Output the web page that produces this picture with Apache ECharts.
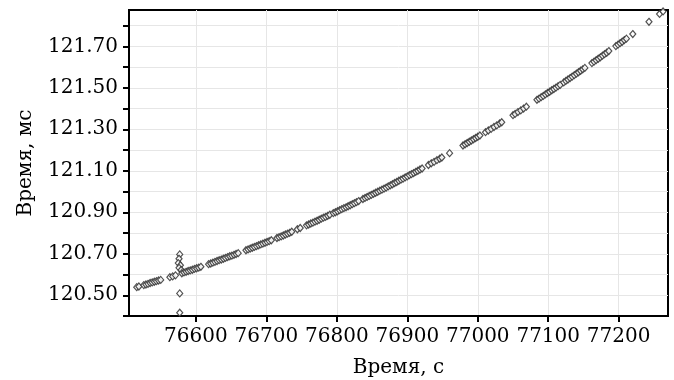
<!DOCTYPE html>
<html>
<head>
<meta charset="utf-8">
<script src="https://cdn.jsdelivr.net/npm/echarts@6/dist/echarts.min.js"></script>
<style>html,body{margin:0;padding:0;background:#fff}#c{width:674px;height:380px}</style>
</head>
<body>
<div id="c"></div>
<script>
// Time, s
const timeS = [
  76516, 76519,
  76526, 76529, 76532, 76535, 76538, 76541, 76544, 76547, 76550,
  76563, 76567, 76571,
  76577, 76576, 76575, 76578, 76576, 76579, 76577, 76577,
  76580, 76583, 76586, 76589, 76592, 76595, 76598, 76601, 76604, 76607,
  76618, 76621, 76624, 76627, 76630, 76633, 76636, 76639, 76642, 76645, 76648, 76651, 76654, 76657, 76660,
  76671, 76674, 76677, 76680, 76683, 76686, 76689, 76692, 76695, 76698, 76701, 76704, 76707,
  76715, 76718, 76721, 76724, 76727, 76730, 76733, 76736,
  76744, 76748,
  76757, 76760, 76763, 76766, 76769, 76772, 76775, 76778, 76781, 76784, 76787, 76790,
  76795, 76798, 76801, 76804, 76807, 76810, 76813, 76816, 76819, 76822, 76825, 76828, 76831,
  76837, 76840, 76843, 76846, 76849, 76852, 76855, 76858, 76861, 76864, 76867, 76870, 76873, 76876, 76879,
  76882, 76885, 76888, 76891, 76894, 76897, 76900, 76903, 76906, 76909, 76912, 76915, 76918, 76921,
  76930, 76934, 76938, 76942, 76946, 76949,
  76960,
  76979, 76982, 76985, 76988, 76991, 76994, 76997, 77000, 77003,
  77011, 77015, 77019, 77023, 77027, 77031, 77034,
  77050, 77053, 77057, 77061, 77065, 77069,
  77084, 77087, 77090, 77093, 77096, 77099, 77102, 77105, 77108, 77111, 77114, 77117,
  77122, 77125, 77128, 77131, 77134, 77137, 77140, 77143, 77146, 77149, 77152,
  77162, 77165, 77168, 77171, 77174, 77177, 77180, 77183, 77186,
  77196, 77199, 77202, 77205, 77208, 77211,
  77220, 77243, 77258, 77263
];
// Time, ms
const delayMs = [
  120.539, 120.542,
  120.549, 120.552, 120.555, 120.559, 120.562, 120.565, 120.568, 120.571, 120.574,
  120.587, 120.591, 120.596,
  120.697, 120.676, 120.655, 120.645, 120.632, 120.622, 120.509, 120.416,
  120.606, 120.610, 120.613, 120.617, 120.620, 120.623, 120.627, 120.630, 120.633, 120.637,
  120.650, 120.653, 120.657, 120.661, 120.665, 120.669, 120.672, 120.676, 120.680, 120.684, 120.688, 120.691, 120.695, 120.699, 120.703,
  120.717, 120.721, 120.725, 120.729, 120.733, 120.737, 120.741, 120.745, 120.749, 120.753, 120.757, 120.761, 120.765,
  120.776, 120.780, 120.784, 120.788, 120.793, 120.797, 120.801, 120.806,
  120.818, 120.824,
  120.837, 120.841, 120.846, 120.850, 120.855, 120.859, 120.864, 120.869, 120.874, 120.878, 120.883, 120.888,
  120.896, 120.900, 120.905, 120.910, 120.915, 120.920, 120.924, 120.929, 120.934, 120.939, 120.944, 120.949, 120.954,
  120.964, 120.969, 120.974, 120.979, 120.984, 120.989, 120.994, 120.999, 121.004, 121.009, 121.014, 121.019, 121.025, 121.030, 121.035,
  121.041, 121.046, 121.052, 121.057, 121.062, 121.068, 121.073, 121.079, 121.084, 121.089, 121.095, 121.100, 121.106, 121.111,
  121.128, 121.136, 121.143, 121.151, 121.158, 121.164,
  121.185,
  121.222, 121.228, 121.234, 121.240, 121.246, 121.252, 121.258, 121.264, 121.270,
  121.286, 121.294, 121.302, 121.311, 121.319, 121.328, 121.334,
  121.368, 121.374, 121.383, 121.391, 121.400, 121.409,
  121.442, 121.448, 121.455, 121.461, 121.468, 121.475, 121.481, 121.488, 121.494, 121.501, 121.508, 121.514,
  121.526, 121.533, 121.540, 121.547, 121.554, 121.561, 121.568, 121.575, 121.582, 121.589, 121.596,
  121.619, 121.626, 121.633, 121.640, 121.647, 121.655, 121.662, 121.669, 121.677,
  121.701, 121.708, 121.715, 121.722, 121.730, 121.737,
  121.759, 121.818, 121.856, 121.868
];
const xTicks = [76600, 76700, 76800, 76900, 77000, 77100, 77200];
const yTicks = [120.4, 120.5, 120.6, 120.7, 120.8, 120.9, 121.0, 121.1, 121.2, 121.3, 121.4, 121.5, 121.6, 121.7, 121.8];
const yLabelTicks = [120.5, 120.7, 120.9, 121.1, 121.3, 121.5, 121.7];
const xName = 'Время, с';
const yName = 'Время, мс';

const FONT = 'DejaVu Serif';
const chart = echarts.init(document.getElementById('c'), null, {renderer: 'canvas'});
const data = timeS.map((t, i) => [t, delayMs[i]]);
chart.setOption({
  animation: false,
  backgroundColor: '#fff',
  grid: {left: 129, right: 6, top: 10, bottom: 64, show: true, borderColor: '#000', borderWidth: 2, containLabel: false, outerBoundsMode: 'none'},
  xAxis: {
    type: 'value', min: 76505, max: 77270,
    name: xName, nameLocation: 'middle', nameGap: 42,
    nameTextStyle: {fontFamily: FONT, fontSize: 20, color: '#000'},
    axisLine: {show: true, lineStyle: {color: '#000', width: 2}},
    axisTick: {show: true, customValues: xTicks, length: 6, lineStyle: {color: '#000', width: 2}},
    axisLabel: {customValues: xTicks, fontFamily: FONT, fontSize: 20, color: '#000', margin: 11, formatter: v => String(v)},
    splitLine: {show: true, lineStyle: {color: '#e6e6e6', width: 1}}
  },
  yAxis: {
    type: 'value', min: 120.4, max: 121.875,
    name: yName, nameLocation: 'middle', nameGap: 93,
    nameTextStyle: {fontFamily: FONT, fontSize: 20, color: '#000'},
    axisLine: {show: true, lineStyle: {color: '#000', width: 2}},
    axisTick: {show: true, customValues: yTicks, length: 6, lineStyle: {color: '#000', width: 2}},
    axisLabel: {customValues: yLabelTicks, fontFamily: FONT, fontSize: 20, color: '#000', margin: 11, formatter: v => v.toFixed(2)},
    splitLine: {show: true, lineStyle: {color: '#e6e6e6', width: 1}}
  },
  series: [{
    type: 'scatter',
    data: data,
    symbol: 'diamond',
    symbolSize: [6, 7],
    itemStyle: {color: '#fff', borderColor: '#333', borderWidth: 1.2, opacity: 0.85},
    emphasis: {disabled: true}
  }]
});
</script>
</body>
</html>
